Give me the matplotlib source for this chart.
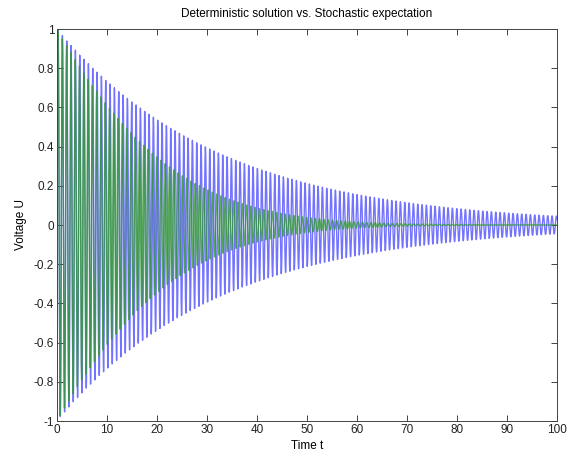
import numpy as np
import matplotlib
matplotlib.use("Agg")
import matplotlib.pyplot as plt

plt.rcParams['font.family'] = ['Liberation Sans', 'DejaVu Sans']

# Parameters
t_start, t_end, dt = 0.0, 100.0, 0.02
omega_det = 7.25             # visible period ~0.866
omega_sto = 7.33             # expectation drifts slowly against the deterministic curve
det_decay = 0.031            # deterministic envelope ~exp(-0.031 t)
sto_decay_lin = 0.045        # stochastic envelope ~exp(-0.045 t - 0.0004 t^2)
sto_decay_quad = 0.0004

xticks = list(range(0, 101, 10))
yticks = [-1, -0.8, -0.6, -0.4, -0.2, 0, 0.2, 0.4, 0.6, 0.8, 1]
ytick_labels = ['-1', '-0.8', '-0.6', '-0.4', '-0.2', '0', '0.2', '0.4', '0.6', '0.8', '1']

t = np.arange(t_start, t_end + dt / 2, dt)
u_det = np.exp(-det_decay * t) * np.sin(omega_det * t)
u_sto = np.exp(-sto_decay_lin * t - sto_decay_quad * t ** 2) * np.sin(omega_sto * t)

fig = plt.figure(figsize=(5.68, 4.58), dpi=100)
ax = fig.add_axes([57 / 568, 37 / 458, 500 / 568, 392 / 458])
ax.plot(t, u_det, color=(0, 0, 1), lw=1.0, alpha=0.55)
ax.plot(t, u_sto, color=(0.2, 0.6, 0.2), lw=1.0, alpha=0.8)

ax.set_xlim(0, 100)
ax.set_ylim(-1, 1)
ax.set_xticks(xticks)
ax.set_xticklabels([str(x) for x in xticks])
ax.set_yticks(yticks)
ax.set_yticklabels(ytick_labels)
ax.tick_params(direction='in', top=True, right=True, length=4, width=0.6,
               labelsize=8.5, colors='#222222', pad=2)
for s in ax.spines.values():
    s.set_linewidth(0.7)
    s.set_color('#444444')
ax.set_xlabel('Time t', fontsize=8.5, labelpad=3)
ax.set_ylabel('Voltage U', fontsize=8.5, labelpad=5)
ax.set_title('Deterministic solution vs. Stochastic expectation', fontsize=8.5, pad=9)

fig.savefig('out.png', dpi=100)
